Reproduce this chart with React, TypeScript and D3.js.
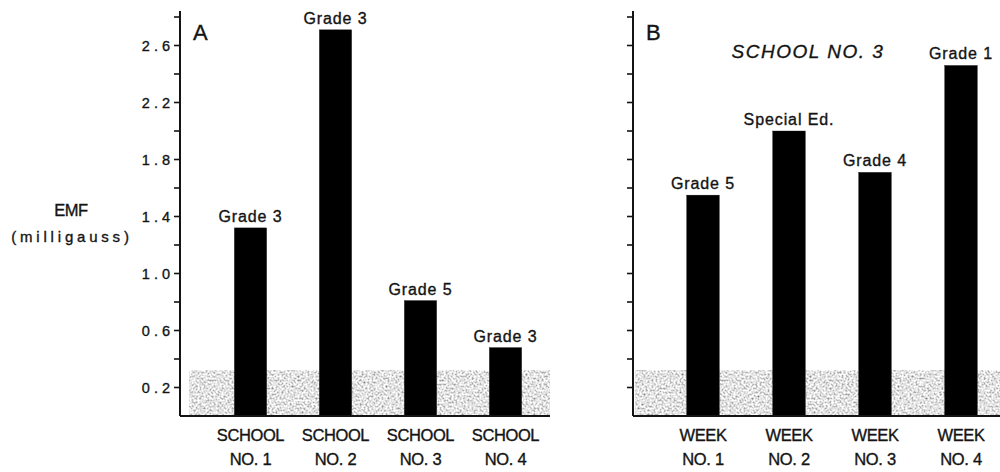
import React from 'react';
import * as d3 from 'd3';

// Panel A: EMF by school
const schoolLines = ['NO. 1', 'NO. 2', 'NO. 3', 'NO. 4'];
const schoolValues = [1.32, 2.71, 0.81, 0.48];
const schoolGrades = ['Grade 3', 'Grade 3', 'Grade 5', 'Grade 3'];

// Panel B: School No. 3 by week
const weekLines = ['NO. 1', 'NO. 2', 'NO. 3', 'NO. 4'];
const weekValues = [1.55, 2.0, 1.71, 2.46];
const weekGrades = ['Grade 5', 'Special Ed.', 'Grade 4', 'Grade 1'];

const majorTicks = [0.2, 0.6, 1.0, 1.4, 1.8, 2.2, 2.6];
const minorTicks = [0.4, 0.8, 1.2, 1.6, 2.0, 2.4, 2.8];
const backgroundLevel = 0.32;

const W = 1000;
const H = 472;
const FONT = '"Liberation Sans", Arial, Helvetica, sans-serif';
const INK = '#141414';

const y = d3.scaleLinear().domain([0, 2.8]).range([416, 17]);

type PanelProps = {
  id: string;
  letter: string;
  axisX: number;
  bandX0: number;
  bandX1: number;
  range: [number, number];
  top: string;
  lines: string[];
  values: number[];
  grades: string[];
  showLabels: boolean;
};

const Panel = ({ id, letter, axisX, bandX0, bandX1, range, top, lines, values, grades, showLabels }: PanelProps) => {
  const x = d3.scaleBand<number>()
    .domain(d3.range(values.length))
    .range(range)
    .paddingInner(0.62)
    .paddingOuter(0.31);

  return (
    <g id={id}>
      {/* background band */}
      <rect
        x={bandX0}
        y={y(backgroundLevel)}
        width={bandX1 - bandX0}
        height={y(0) - y(backgroundLevel)}
        fill="#c0c0c0"
        filter="url(#stipple)"
      />
      {/* bars */}
      {values.map((v, i) => (
        <rect key={i} x={x(i)} y={y(v)} width={x.bandwidth()} height={y(0) - y(v)} fill="#000" />
      ))}
      {/* bar labels */}
      {values.map((v, i) => (
        <text
          key={'g' + i}
          x={(x(i) as number) + x.bandwidth() / 2}
          y={y(v) - 6}
          textAnchor="middle"
          fontSize={16}
          letterSpacing={0.9}
        >
          {grades[i]}
        </text>
      ))}
      {/* category labels */}
      {lines.map((l, i) => {
        const cx = (x(i) as number) + x.bandwidth() / 2;
        return (
          <g key={'c' + i} fontSize={16.5} textAnchor="middle">
            <text x={cx} y={441} letterSpacing={-0.4}>{top}</text>
            <text x={cx} y={465} letterSpacing={-0.3}>{l}</text>
          </g>
        );
      })}
      {/* axis */}
      <line x1={axisX} x2={axisX} y1={11} y2={y(0)} stroke={INK} strokeWidth={2} />
      <line x1={axisX} x2={bandX1} y1={y(0)} y2={y(0)} stroke={INK} strokeWidth={2.2} />
      {[...majorTicks, ...minorTicks].map((t) => (
        <line key={'t' + t} x1={axisX - 6} x2={axisX} y1={y(t)} y2={y(t)} stroke={INK} strokeWidth={1.6} />
      ))}
      {showLabels && majorTicks.map((t) => (
        <text
          key={'l' + t}
          x={axisX - 6}
          y={y(t)}
          dy="0.36em"
          textAnchor="end"
          fontSize={14.5}
          letterSpacing={4}
        >
          {d3.format('.1f')(t)}
        </text>
      ))}
      <text x={axisX + 13} y={40} fontSize={22}>{letter}</text>
    </g>
  );
};

export default function App() {
  return (
    <div style={{ position: 'absolute', left: 0, top: 0, width: W, height: H, background: '#fff' }}>
      <svg width={W} height={H} viewBox={`0 0 ${W} ${H}`} style={{ display: 'block' }}>
        <defs>
          <filter id="stipple" x="0" y="0" width="100%" height="100%">
            <feTurbulence type="fractalNoise" baseFrequency="0.5" numOctaves={3} seed={7} result="noise" />
            <feColorMatrix
              in="noise"
              type="matrix"
              values="1.6 0 0 0 -0.03  1.6 0 0 0 -0.03  1.6 0 0 0 -0.03  0 0 0 0 1"
              result="gray"
            />
            <feComposite in="gray" in2="SourceGraphic" operator="in" />
          </filter>
        </defs>
        <rect width={W} height={H} fill="#fff" />

        <g fontFamily={FONT} fill={INK} stroke={INK} strokeWidth={0.35}>
          <g textAnchor="middle">
            <text x={71} y={216} fontSize={16.5} letterSpacing={-0.4}>EMF</text>
            <text x={72} y={242} fontSize={15} letterSpacing={3.8}>(milligauss)</text>
          </g>

          <Panel
            id="panel-a"
            letter="A"
            axisX={180}
            bandX0={189}
            bandX1={550}
            range={[208, 548]}
            top="SCHOOL"
            lines={schoolLines}
            values={schoolValues}
            grades={schoolGrades}
            showLabels
          />
          <Panel
            id="panel-b"
            letter="B"
            axisX={633}
            bandX0={635}
            bandX1={1000}
            range={[660, 1004]}
            top="WEEK"
            lines={weekLines}
            values={weekValues}
            grades={weekGrades}
            showLabels={false}
          />

          <text x={808} y={58} textAnchor="middle" fontStyle="italic" fontSize={19} letterSpacing={1.5}>
            SCHOOL NO. 3
          </text>
        </g>
      </svg>
    </div>
  );
}
